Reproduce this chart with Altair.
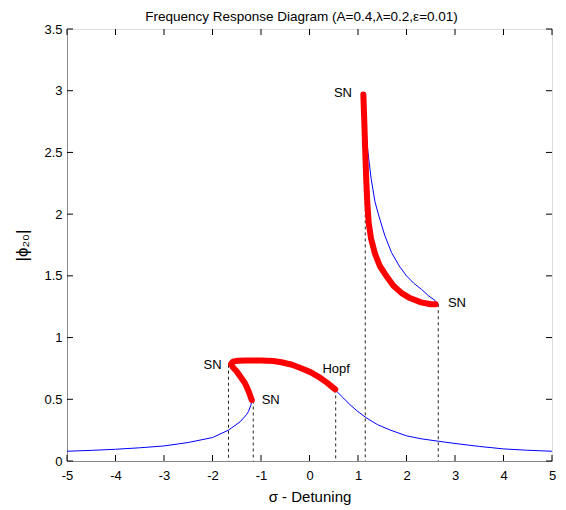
import altair as alt
import pandas as pd

# ---- data ----
blue_left_x = [-5, -4.5, -4, -3.5, -3, -2.5, -2, -1.67, -1.43, -1.30, -1.26, -1.21, -1.19]
blue_left_y = [0.079, 0.086, 0.095, 0.107, 0.122, 0.15, 0.19, 0.25, 0.318, 0.375, 0.40, 0.45, 0.494]

blue_right_x = [0.53, 0.7, 0.84, 1.0, 1.17, 1.4, 1.67, 2.0, 2.3, 2.66, 3.0, 3.5, 4.0, 4.5, 5.0]
blue_right_y = [0.576, 0.51, 0.454, 0.40, 0.35, 0.295, 0.25, 0.204, 0.18, 0.16, 0.142, 0.118, 0.098, 0.087, 0.079]

blue_upper_x = [1.11, 1.15, 1.2, 1.27, 1.35, 1.42, 1.55, 1.69, 1.85, 2.0, 2.15, 2.31, 2.45, 2.59, 2.65]
blue_upper_y = [2.98, 2.75, 2.52, 2.29, 2.10, 2.00, 1.83, 1.69, 1.58, 1.50, 1.44, 1.39, 1.34, 1.30, 1.27]

red_lower_x = [-1.19, -1.26, -1.33, -1.42, -1.50, -1.58, -1.62, -1.58, -1.48, -1.30, -1.0, -0.75,
               -0.58, -0.36, -0.16, 0.02, 0.18, 0.36, 0.53]
red_lower_y = [0.494, 0.57, 0.63, 0.68, 0.725, 0.76, 0.785, 0.805, 0.812, 0.815, 0.814, 0.81,
               0.80, 0.78, 0.75, 0.72, 0.684, 0.635, 0.58]

red_upper_x = [1.11, 1.13, 1.15, 1.17, 1.19, 1.22, 1.27, 1.35, 1.45, 1.6, 1.73, 1.9, 2.07, 2.3, 2.5, 2.6]
red_upper_y = [2.97, 2.75, 2.50, 2.28, 2.10, 1.93, 1.80, 1.68, 1.58, 1.49, 1.42, 1.36, 1.32, 1.285, 1.27, 1.27]

dash_x = [-1.67, -1.16, 0.54, 1.15, 2.655]
dash_top = [0.78, 0.49, 0.58, 2.97, 1.27]

label_text = ["SN", "SN", "Hopf", "SN", "SN"]
label_x = [-2.0, -0.80, 0.55, 0.69, 3.04]
label_y = [0.779, 0.494, 0.747, 2.985, 1.284]

x_ticks = [-5, -4, -3, -2, -1, 0, 1, 2, 3, 4, 5]
y_ticks = [0, 0.5, 1, 1.5, 2, 2.5, 3, 3.5]

# ---- tables ----
def seg(xs, ys, name):
    return pd.DataFrame({"x": xs, "y": ys, "seg": name, "ord": list(range(len(xs)))})

blue_df = pd.concat([seg(blue_left_x, blue_left_y, "bl"),
                     seg(blue_right_x, blue_right_y, "br"),
                     seg(blue_upper_x, blue_upper_y, "bu")])
red_df = pd.concat([seg(red_lower_x, red_lower_y, "rl"),
                    seg(red_upper_x, red_upper_y, "ru")])
dash_df = pd.DataFrame({"x": dash_x, "y": dash_top})
lab_df = pd.DataFrame({"x": label_x, "y": label_y, "t": label_text})
xt_df = pd.DataFrame({"x": x_ticks})
yt_df = pd.DataFrame({"y": y_ticks})

W, H = 485, 432
FONT = "Liberation Sans"

X = alt.X("x:Q", title="σ - Detuning",
          scale=alt.Scale(domain=[-5, 5], nice=False, zero=False),
          axis=alt.Axis(values=x_ticks, grid=False, tickSize=0, labelPadding=8,
                        titlePadding=7, titleFontSize=15, labelFontSize=13,
                        titleFontWeight="normal", labelExpr="datum.value + ''",
                        labelFlush=False))
Y = alt.Y("y:Q", title="|ϕ₂₀|",
          scale=alt.Scale(domain=[0, 3.5], nice=False, zero=False),
          axis=alt.Axis(values=y_ticks, grid=False, tickSize=0, labelPadding=5,
                        titleFontSize=17, labelFontSize=13, labelFlush=False,
                        titleFontWeight="normal", labelExpr="datum.value + ''",
                        titleX=-45, titleY=H / 2, titleBaseline="middle",
                        titleAlign="center", titleAngle=-90))

blue = alt.Chart(blue_df).mark_line(color="#0000FF", strokeWidth=1).encode(
    x=X, y=Y, detail="seg:N", order="ord:Q")
red = alt.Chart(red_df).mark_line(color="#FF0000", strokeWidth=6, strokeCap="round",
                                  strokeJoin="round").encode(
    x=X, y=Y, detail="seg:N", order="ord:Q")
dashes = alt.Chart(dash_df).mark_rule(color="#222222", strokeWidth=1, strokeDash=[3, 3]).encode(
    x=X, y=Y, y2=alt.datum(0))
labels = alt.Chart(lab_df).mark_text(font=FONT, fontSize=13, color="black",
                                     align="center", baseline="middle").encode(
    x=X, y=Y, text="t:N")

tick_style = dict(color="black", strokeWidth=1)
bt = alt.Chart(xt_df).mark_rule(**tick_style).encode(x=X, y=alt.value(H), y2=alt.value(H - 6))
tt = alt.Chart(xt_df).mark_rule(**tick_style).encode(x=X, y=alt.value(0), y2=alt.value(6))
lt = alt.Chart(yt_df).mark_rule(**tick_style).encode(y=Y, x=alt.value(0), x2=alt.value(6))
rt = alt.Chart(yt_df).mark_rule(**tick_style).encode(y=Y, x=alt.value(W), x2=alt.value(W - 6))

chart = alt.layer(blue, dashes, red, labels, bt, tt, lt, rt).properties(
    width=W, height=H,
    title=alt.TitleParams("Frequency Response Diagram (A=0.4,λ=0.2,ε=0.01)",
                          font=FONT, fontSize=13.5, fontWeight="normal", color="black",
                          offset=0, anchor="middle", dx=-8),
    autosize=alt.AutoSizeParams(type="none"),
    padding={"left": 59, "top": 21, "right": 6, "bottom": 45},
).configure_view(stroke="black", strokeWidth=1).configure_axis(
    domainColor="black", labelColor="black", titleColor="black",
    labelFont=FONT, titleFont=FONT, titleFontWeight="normal",
).configure(background="white")

chart.save("out.html", embed_options={"renderer": "svg", "actions": False})
